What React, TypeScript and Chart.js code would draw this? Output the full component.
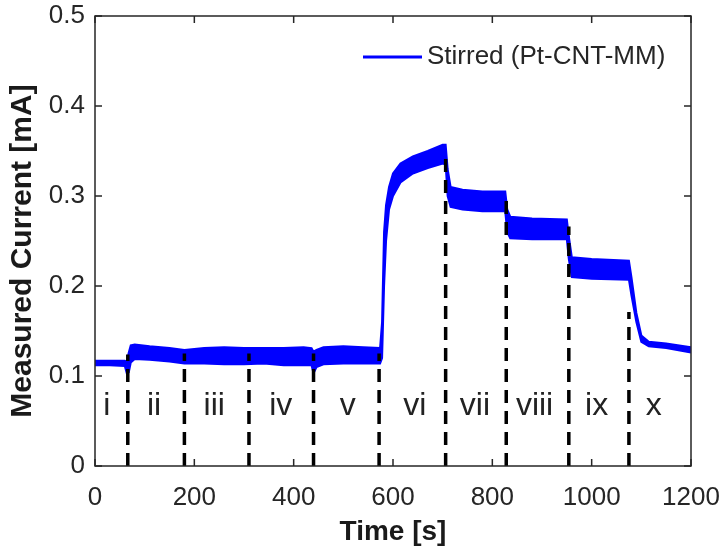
import React, { useEffect, useRef } from "react";
import { Chart, registerables } from "chart.js";

Chart.register(...registerables);

// Time axis samples [s]
const timeS = [
  0, 30, 60, 64, 68, 72, 80, 110, 150, 180, 220, 260, 300, 340, 380, 420, 436, 440, 446, 460,
  500, 540, 574, 578, 582, 586, 592, 600, 615, 640, 670, 700, 706, 710, 716, 740, 780, 826,
  830, 836, 880, 950, 954, 960, 1000, 1075, 1080, 1090, 1100, 1115, 1150, 1200,
];
// Upper edge of the noisy current band [mA]
const upperMA = [
  0.117, 0.117, 0.117, 0.116, 0.126, 0.134, 0.135, 0.133, 0.131, 0.129, 0.131, 0.132, 0.131, 0.131, 0.131, 0.132, 0.131, 0.127, 0.129, 0.132,
  0.133, 0.132, 0.131, 0.16, 0.26, 0.29, 0.31, 0.325, 0.336, 0.344, 0.35, 0.357, 0.357, 0.33, 0.31, 0.307, 0.305, 0.305,
  0.285, 0.277, 0.275, 0.274, 0.255, 0.232, 0.23, 0.228, 0.21, 0.17, 0.145, 0.138, 0.136, 0.132,
];
// Lower edge of the noisy current band [mA]
const lowerMA = [
  0.112, 0.112, 0.111, 0.103, 0.104, 0.115, 0.119, 0.118, 0.116, 0.114, 0.114, 0.113, 0.113, 0.114, 0.112, 0.112, 0.112, 0.103, 0.11, 0.113,
  0.114, 0.114, 0.114, 0.12, 0.2, 0.25, 0.285, 0.3, 0.315, 0.325, 0.331, 0.336, 0.335, 0.3, 0.288, 0.285, 0.283, 0.283,
  0.26, 0.253, 0.252, 0.252, 0.23, 0.21, 0.208, 0.207, 0.19, 0.16, 0.138, 0.133, 0.131, 0.126,
];

// Dashed step markers
const stepTimes = [66, 180, 310, 440, 572, 706, 828, 954, 1075];
const stepTops = [0.124, 0.125, 0.125, 0.125, 0.125, 0.348, 0.299, 0.266, 0.171];

// Region labels
const regionLabels = ["i", "ii", "iii", "iv", "v", "vi", "vii", "viii", "ix", "x"];
const regionCenters = [24, 119, 240, 374, 509, 644, 765, 885, 1010, 1125];
const regionLabelY = 0.057;

const xTicks = [0, 200, 400, 600, 800, 1000, 1200];
const yTicks = [0, 0.1, 0.2, 0.3, 0.4, 0.5];

const seriesName = "Stirred (Pt-CNT-MM)";
const yTitle = "Measured Current [mA]";
const BLUE = "#0000ff";
const AXIS = "#262626";
const FONT = "'Liberation Sans', Arial, Helvetica, sans-serif";

const decorPlugin = {
  id: "decor",
  afterDatasetsDraw(chart: any) {
    const { ctx, chartArea, scales } = chart;
    const xs = scales.x;
    const ys = scales.y;
    ctx.save();
    // dashed vertical step lines
    ctx.strokeStyle = "#000";
    ctx.lineWidth = 3.5;
    ctx.setLineDash([13, 8]);
    stepTimes.forEach((t, i) => {
      const px = xs.getPixelForValue(t);
      ctx.beginPath();
      ctx.moveTo(px, ys.getPixelForValue(0));
      ctx.lineTo(px, ys.getPixelForValue(stepTops[i]));
      ctx.stroke();
    });
    ctx.setLineDash([]);
    // region labels
    ctx.fillStyle = "#222";
    ctx.font = `32px ${FONT}`;
    ctx.textAlign = "center";
    ctx.textBaseline = "alphabetic";
    regionLabels.forEach((lab, i) => {
      ctx.fillText(lab, xs.getPixelForValue(regionCenters[i]), ys.getPixelForValue(regionLabelY));
    });
    // frame
    ctx.strokeStyle = AXIS;
    ctx.lineWidth = 1.5;
    ctx.strokeRect(chartArea.left, chartArea.top, chartArea.right - chartArea.left, chartArea.bottom - chartArea.top);
    const tl = 7;
    xTicks.forEach((v) => {
      const px = xs.getPixelForValue(v);
      ctx.beginPath();
      ctx.moveTo(px, chartArea.bottom);
      ctx.lineTo(px, chartArea.bottom - tl);
      ctx.moveTo(px, chartArea.top);
      ctx.lineTo(px, chartArea.top + tl);
      ctx.stroke();
    });
    yTicks.forEach((v) => {
      const py = ys.getPixelForValue(v);
      ctx.beginPath();
      ctx.moveTo(chartArea.left, py);
      ctx.lineTo(chartArea.left + tl, py);
      ctx.moveTo(chartArea.right, py);
      ctx.lineTo(chartArea.right - tl, py);
      ctx.stroke();
    });
    // legend
    const ly = chartArea.top + 41;
    ctx.strokeStyle = BLUE;
    ctx.lineWidth = 3;
    ctx.beginPath();
    ctx.moveTo(chartArea.right - 328, ly);
    ctx.lineTo(chartArea.right - 269, ly);
    ctx.stroke();
    ctx.fillStyle = AXIS;
    ctx.font = `26px ${FONT}`;
    ctx.textAlign = "left";
    ctx.textBaseline = "middle";
    ctx.fillText(seriesName, chartArea.right - 264, ly);
    // y axis title
    ctx.save();
    ctx.translate(23, (chartArea.top + chartArea.bottom) / 2 + 10);
    ctx.rotate(-Math.PI / 2);
    ctx.fillStyle = "#1a1a1a";
    ctx.font = `bold 30px ${FONT}`;
    ctx.textAlign = "center";
    ctx.textBaseline = "middle";
    ctx.fillText(yTitle, 0, 0);
    ctx.restore();
    ctx.restore();
  },
};

export default function App() {
  const ref = useRef<HTMLCanvasElement>(null);
  useEffect(() => {
    if (!ref.current) return;
    const chart = new Chart(ref.current, {
      type: "line",
      data: {
        datasets: [
          {
            label: seriesName,
            data: timeS.map((t, i) => ({ x: t, y: upperMA[i] })),
            borderColor: BLUE,
            backgroundColor: BLUE,
            borderWidth: 2,
            pointRadius: 0,
            fill: "+1",
            tension: 0,
          },
          {
            label: seriesName + " (lower)",
            data: timeS.map((t, i) => ({ x: t, y: lowerMA[i] })),
            borderColor: BLUE,
            backgroundColor: BLUE,
            borderWidth: 2,
            pointRadius: 0,
            fill: false,
            tension: 0,
          },
        ],
      },
      options: {
        animation: false,
        responsive: false,
        layout: { padding: { left: 0, top: 16, right: 34, bottom: 0 } },
        plugins: { legend: { display: false }, tooltip: { enabled: false } },
        scales: {
          x: {
            type: "linear",
            min: 0,
            max: 1200,
            grid: { display: false, drawTicks: false },
            border: { display: false },
            afterBuildTicks: (s: any) => {
              s.ticks = xTicks.map((v) => ({ value: v }));
            },
            afterFit: (s: any) => {
              s.height = 86;
              s.paddingLeft = 0;
              s.paddingRight = 0;
            },
            ticks: {
              color: AXIS,
              font: { family: FONT, size: 26 },
              padding: 16,
              maxRotation: 0,
              autoSkip: false,
              callback: (v: any) => String(Number(v)),
            },
            title: {
              display: true,
              text: "Time [s]",
              color: "#1a1a1a",
              font: { family: FONT, size: 28, weight: "bold" },
              padding: { top: 0, bottom: 3 },
            },
          },
          y: {
            type: "linear",
            min: 0,
            max: 0.5,
            grid: { display: false, drawTicks: false },
            border: { display: false },
            afterBuildTicks: (s: any) => {
              s.ticks = yTicks.map((v) => ({ value: v }));
            },
            afterFit: (s: any) => {
              s.width = 95;
              s.paddingTop = 0;
              s.paddingBottom = 0;
            },
            ticks: {
              color: AXIS,
              font: { family: FONT, size: 26 },
              padding: 10,
              autoSkip: false,
              callback: (v: any) => String(Number(v)),
            },
            title: { display: false },
          },
        },
      },
      plugins: [decorPlugin],
    });
    return () => chart.destroy();
  }, []);
  return (
    <div style={{ position: "absolute", left: 0, top: 0, width: 725, height: 552, background: "#fff" }}>
      <canvas ref={ref} width={725} height={552} style={{ display: "block" }} />
    </div>
  );
}
